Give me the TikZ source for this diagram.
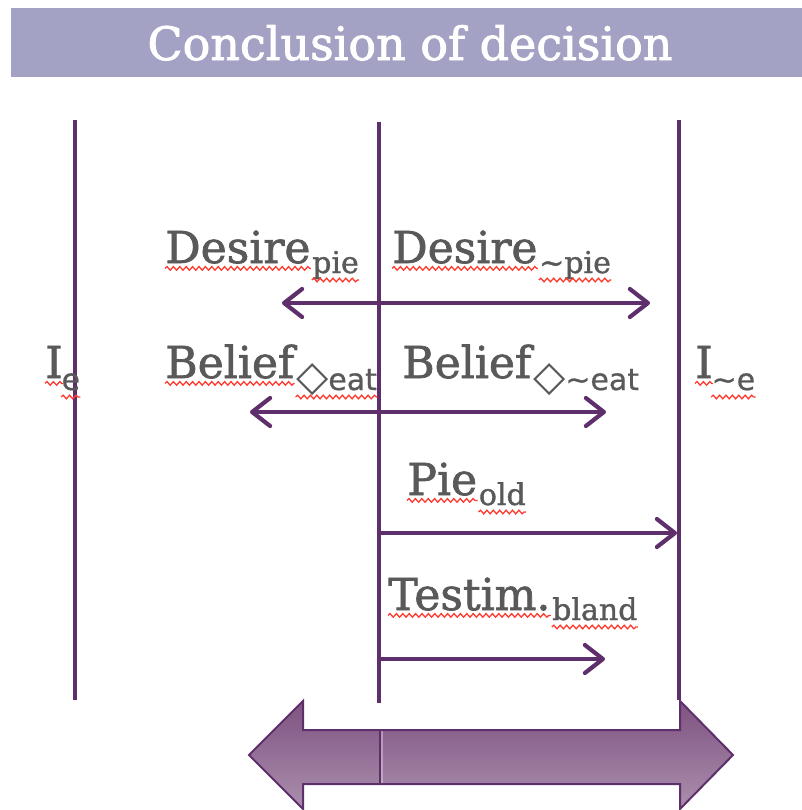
\documentclass[tikz,border=0pt]{standalone}
\usepackage{fontspec}
\setmainfont{DejaVu Serif}
\newfontfamily\lblfont[FakeBold=1.6]{DejaVu Serif}
\newfontfamily\sublblfont[FakeBold=1.2]{DejaVu Serif}
\newfontfamily\titlefont[FakeBold=1.8]{DejaVu Serif}
\newfontfamily\subsans[FakeBold=0.6]{DejaVu Sans}
\newfontfamily\dmdfont{DejaVu Sans}
\usetikzlibrary{arrows.meta,decorations.pathmorphing}
\definecolor{purp}{HTML}{5F2F6B}
\definecolor{titlebar}{HTML}{A3A2C4}
\definecolor{txtgray}{HTML}{595959}
\definecolor{wavered}{HTML}{FF3B30}
\definecolor{arrtop}{HTML}{7E5381}
\definecolor{arrbot}{HTML}{AB8FAD}
\tikzset{
  vline/.style={draw=purp, line width=2.3pt},
  conn/.style={draw=purp, line width=2.1pt, line cap=round,
    >={Straight Barb[length=9pt,width=14pt,round]}},
  lbl/.style={inner sep=0pt, anchor=base west, text=txtgray, font=\lblfont\fontsize{22}{22}\selectfont},
  sublbl/.style={inner sep=0pt, anchor=base west, text=txtgray, font=\sublblfont\fontsize{15}{15}\selectfont},
  wavy/.style={draw=wavered, line width=0.65pt, decorate,
    decoration={snake, amplitude=0.9pt, segment length=3.2pt}},
  bigarrow/.style={draw=purp, line width=1pt, top color=arrtop, bottom color=arrbot},
}
\newcommand{\dmd}{{\dmdfont\fontsize{21}{21}\selectfont ◇}}
\begin{document}
\begin{tikzpicture}[x=0.5pt,y=-0.5pt]
\useasboundingbox (0,0) rectangle (802,810);
% title
\fill[titlebar] (11,8) rectangle (802,77);
\node[text=white, inner sep=0pt, anchor=base, font=\titlefont\fontsize{23}{23}\selectfont] (title) at (410,60) {Conclusion of decision};

% big double arrow
\path[bigarrow] (249,755) -- (303,701) -- (303,730) -- (680,730) -- (680,701) -- (733,755)
  -- (680,809) -- (680,784) -- (303,784) -- (303,809) -- cycle;
\coordinate (dvt) at (380,731);
\coordinate (dvb) at (380,783);
\draw[purp, line width=1pt] (dvt) -- (dvb);
\draw[white, opacity=0.35, line width=1pt] ([xshift=1pt]dvt) -- ([xshift=1pt]dvb);

% vertical lines
\coordinate (L1t) at (75,120);  \coordinate (L1b) at (75,700);
\coordinate (L2t) at (379,122); \coordinate (L2b) at (379,703);
\coordinate (L3t) at (679,120); \coordinate (L3b) at (679,700);
\draw[vline] (L1t) -- (L1b);
\draw[vline] (L2t) -- (L2b);
\draw[vline] (L3t) -- (L3b);

% row 1: desire
\node[lbl] (dp) at (165,263) {Desire};
\node[sublbl] (dps) at ([xshift=0.5pt,yshift=-5pt]dp.base east) {pie};
\node[lbl] (dn) at (392,263) {Desire};
\node[sublbl] (dns) at ([xshift=0.5pt,yshift=-5pt]dn.base east) {\textasciitilde pie};
\coordinate (a1l) at (282,303); \coordinate (a1r) at (650,303);
\draw[conn,<->] (a1l) -- (a1r);

% row 2: belief
\node[lbl] (ie) at (45,378) {I};
\node[sublbl] (ies) at ([xshift=-1pt,yshift=-6pt]ie.base east) {\subsans e};
\node[lbl] (bp) at (165,378) {Belief};
\node[sublbl] (bps) at ([xshift=0.5pt,yshift=-6pt]bp.base east) {\dmd\subsans eat};
\node[lbl] (bn) at (402,378) {Belief};
\node[sublbl] (bns) at ([xshift=0.5pt,yshift=-6pt]bn.base east) {\dmd\subsans\textasciitilde eat};
\node[lbl] (ine) at (695,378) {I};
\node[sublbl] (ines) at ([xshift=-1pt,yshift=-6pt]ine.base east) {\subsans\textasciitilde e};
\coordinate (a2l) at (250,412); \coordinate (a2r) at (606,412);
\draw[conn,<->] (a2l) -- (a2r);

% row 3: pie old
\node[lbl] (po) at (407,495) {Pie};
\node[sublbl] (pos) at ([xshift=0.5pt,yshift=-5pt]po.base east) {old};
\coordinate (a3l) at (379,533); \coordinate (a3r) at (677,533);
\draw[conn,->] (a3l) -- (a3r);

% row 4: testimony
\node[lbl] (tb) at (388,610) {Testim.};
\node[sublbl] (tbs) at ([xshift=0.5pt,yshift=-5pt]tb.base east) {bland};
\coordinate (a4l) at (379,659); \coordinate (a4r) at (605,659);
\draw[conn,->] (a4l) -- (a4r);

% spell-check wavy underlines
\foreach \n in {dp,dn,ie,bp,ine,po,tb}{
  \draw[wavy] ([yshift=-2.7pt]\n.base west) -- ([yshift=-2.7pt]\n.base east);
}
\foreach \n in {dps,dns,ies,bps,ines,pos,tbs}{
  \draw[wavy] ([yshift=-3.5pt]\n.base west) -- ([yshift=-3.5pt]\n.base east);
}
\end{tikzpicture}
\end{document}
